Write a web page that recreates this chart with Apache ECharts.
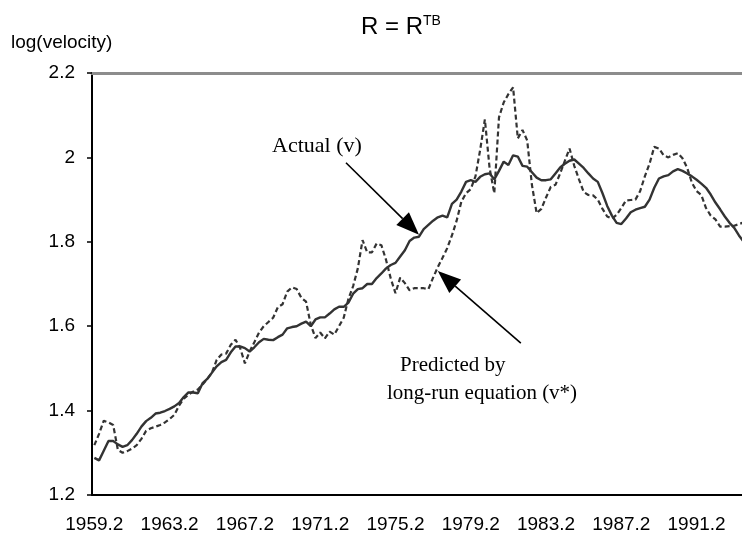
<!DOCTYPE html>
<html lang="en">
<head>
    <meta charset="UTF-8">
    <title>R = R TB velocity</title>
    <style>
        html,body{margin:0;padding:0;background:#fff;}
        .box{width:742px;height:543px;}
    </style>
</head>
<body>
<div class="box" id="box"></div>
<script src="https://cdn.jsdelivr.net/npm/echarts@6/dist/echarts.min.js"></script>
<script>
    // quarterly series, first observation 1959.2
    var startYear = 1959, startQuarter = 2;
    var actual = [
        1.288,1.282,1.305,1.328,1.328,1.320,1.314,1.318,1.330,1.345,
        1.362,1.375,1.383,1.393,1.395,1.399,1.404,1.410,1.418,1.432,
        1.443,1.443,1.441,1.465,1.475,1.490,1.505,1.515,1.520,1.538,
        1.552,1.552,1.548,1.540,1.550,1.562,1.570,1.568,1.567,1.574,
        1.580,1.595,1.598,1.600,1.606,1.611,1.600,1.616,1.621,1.621,
        1.630,1.640,1.646,1.646,1.656,1.677,1.688,1.690,1.700,1.700,
        1.714,1.725,1.737,1.745,1.750,1.765,1.780,1.802,1.810,1.812,
        1.830,1.840,1.850,1.858,1.862,1.858,1.890,1.900,1.919,1.942,
        1.946,1.942,1.954,1.960,1.962,1.948,1.968,1.990,1.982,2.005,
        2.002,1.980,1.978,1.965,1.952,1.946,1.946,1.948,1.962,1.976,
        1.985,1.992,1.995,1.985,1.975,1.962,1.950,1.942,1.915,1.885,
        1.862,1.845,1.842,1.855,1.870,1.876,1.880,1.883,1.900,1.928,
        1.950,1.955,1.958,1.967,1.972,1.968,1.962,1.955,1.947,1.938,
        1.928,1.912,1.893,1.877,1.860,1.845,1.833,1.815,1.800
    ];
    var predicted = [
        1.318,1.345,1.376,1.372,1.366,1.307,1.300,1.304,1.310,1.318,
        1.333,1.352,1.358,1.362,1.366,1.372,1.380,1.390,1.412,1.428,
        1.438,1.445,1.450,1.462,1.475,1.490,1.520,1.533,1.535,1.556,
        1.568,1.548,1.512,1.540,1.562,1.585,1.600,1.610,1.620,1.645,
        1.652,1.682,1.692,1.688,1.667,1.658,1.603,1.572,1.585,1.571,
        1.587,1.580,1.600,1.620,1.665,1.695,1.737,1.804,1.775,1.775,
        1.796,1.792,1.757,1.713,1.678,1.715,1.702,1.685,1.690,1.690,
        1.690,1.688,1.715,1.740,1.762,1.785,1.815,1.850,1.895,1.915,
        1.925,1.955,2.018,2.090,1.975,1.915,2.095,2.130,2.150,2.166,
        2.045,2.065,2.040,1.935,1.868,1.878,1.905,1.930,1.935,1.962,
        1.992,2.021,1.980,1.948,1.918,1.911,1.910,1.900,1.878,1.860,
        1.855,1.864,1.880,1.898,1.899,1.900,1.920,1.955,1.985,2.025,
        2.021,2.005,2.000,2.006,2.010,1.998,1.975,1.940,1.920,1.911,
        1.880,1.862,1.853,1.836,1.836,1.837,1.838,1.842,1.846
    ];
    var yMin = 1.2, yMax = 2.2, yStep = 0.2;
    var labelEvery = 16;   // one label every 4 years

    var quarters = [];
    for (var i = 0; i < actual.length; i++) {
        var q = startQuarter - 1 + i;
        quarters.push((startYear + Math.floor(q / 4)) + '.' + (q % 4 + 1));
    }

    var ink = '#333333';
    var sans = 'Liberation Sans';

    var mychart = echarts.init(document.getElementById('box'));
    var option = {
        animation: false,
        backgroundColor: '#fff',
        title: [{
            text: '{a|R = R}{b|TB}',
            left: 356,
            top: 9,
            textStyle: {
                rich: {
                    a: {fontFamily: sans, fontSize: 24, fontWeight: 'normal', color: '#000'},
                    b: {fontFamily: sans, fontSize: 14, fontWeight: 'normal', color: '#000', padding: [0, 0, 12, 0]}
                }
            }
        }, {
            text: 'log(velocity)',
            left: 6,
            top: 28,
            textStyle: {fontFamily: sans, fontSize: 19, fontWeight: 'normal', color: '#000'}
        }],
        grid: {
            left: 92,
            right: -4,
            top: 73,
            bottom: 48,
            containLabel: false,
            outerBoundsMode: 'none'
        },
        xAxis: [{
            type: 'category',
            data: quarters,
            boundaryGap: true,
            axisLine: {lineStyle: {color: '#000', width: 2}},
            axisTick: {interval: labelEvery - 1, length: 7, lineStyle: {color: '#000', width: 1.5}},
            axisLabel: {
                interval: labelEvery - 1,
                margin: 20,
                fontFamily: sans,
                fontSize: 19,
                color: '#000'
            },
            splitLine: {show: false}
        }, {
            type: 'category',
            data: quarters,
            position: 'top',
            axisLine: {lineStyle: {color: '#8c8c8c', width: 3}},
            axisTick: {show: false},
            axisLabel: {show: false}
        }],
        yAxis: {
            type: 'value',
            min: yMin,
            max: yMax,
            interval: yStep,
            axisLine: {show: true, lineStyle: {color: '#000', width: 2}},
            axisTick: {show: true, length: 5, lineStyle: {color: '#000', width: 1.5}},
            axisLabel: {
                margin: 17,
                fontFamily: sans,
                fontSize: 19,
                color: '#000',
                formatter: function (v) { return String(+v.toFixed(1)); }
            },
            splitLine: {show: false}
        },
        series: [{
            name: 'Predicted by long-run equation (v*)',
            type: 'line',
            data: predicted,
            symbol: 'none',
            lineStyle: {color: ink, width: 2.2, type: [5, 3]}
        }, {
            name: 'Actual (v)',
            type: 'line',
            data: actual,
            symbol: 'none',
            lineStyle: {color: ink, width: 2.4}
        }]
    };
    mychart.setOption(option);

    // arrow from a tail offset to a point on a series
    function arrow(tip, dx, dy) {
        var tail = [tip[0] + dx, tip[1] + dy];
        var len = Math.sqrt(dx * dx + dy * dy);
        var ux = -dx / len, uy = -dy / len;
        var headL = 23, headW = 18;
        var bx = tip[0] - ux * headL, by = tip[1] - uy * headL;
        var nx = -uy * headW / 2, ny = ux * headW / 2;
        return [{
            type: 'line',
            shape: {x1: tail[0], y1: tail[1], x2: bx, y2: by},
            style: {stroke: '#000', lineWidth: 1.6}
        }, {
            type: 'polygon',
            shape: {points: [[tip[0], tip[1]], [bx + nx, by + ny], [bx - nx, by - ny]]},
            style: {fill: '#000'}
        }];
    }

    var iA = quarters.indexOf('1976.3');
    var iP = quarters.indexOf('1977.3');
    var tipA = mychart.convertToPixel({xAxisIndex: 0, yAxisIndex: 0}, [quarters[iA], actual[iA]]);
    var tipP = mychart.convertToPixel({xAxisIndex: 0, yAxisIndex: 0}, [quarters[iP], predicted[iP]]);
    tipA[1] -= 2;
    tipP[1] += 4;

    var graphics = [].concat(
        arrow(tipA, -73, -72),
        arrow(tipP, 83, 72),
        [{
            type: 'text', left: 272, top: 135,
            style: {text: 'Actual (v)', font: '22px "Liberation Serif"', fill: '#000'}
        }, {
            type: 'text', left: 400, top: 355,
            style: {text: 'Predicted by', font: '21px "Liberation Serif"', fill: '#000'}
        }, {
            type: 'text', left: 387, top: 383,
            style: {text: 'long-run equation (v*)', font: '21px "Liberation Serif"', fill: '#000'}
        }]
    );
    mychart.setOption({graphic: graphics});
    window.onresize = mychart.resize;
</script>
</body>
</html>
